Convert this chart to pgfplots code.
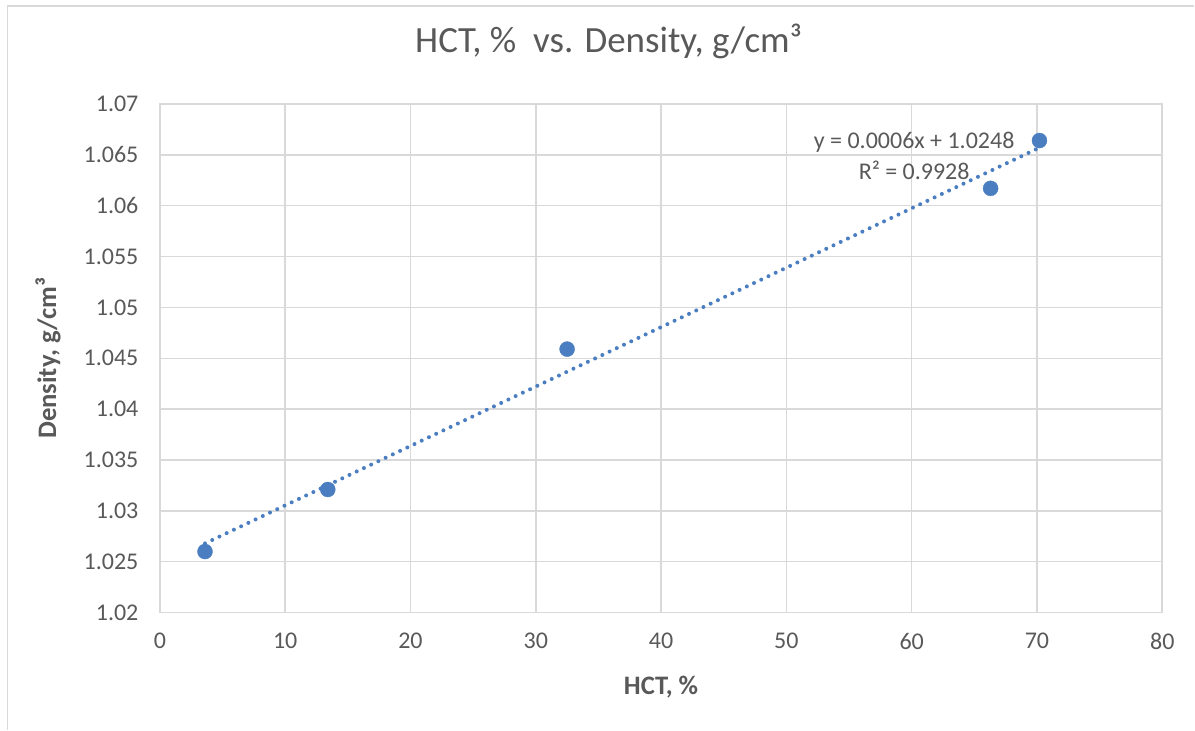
\documentclass[border=0pt]{standalone}
\usepackage{pgfplots}
\pgfplotsset{compat=1.18}
\usepackage{fontspec}
\setmainfont{Carlito}
\definecolor{txt}{HTML}{595959}
\definecolor{gridc}{HTML}{D9D9D9}
\definecolor{ser}{HTML}{4A7EC0}
\begin{document}
\begin{tikzpicture}[x=1bp,y=1bp]
% chart canvas and its faint border
\path (0,0) rectangle (1195,730);
\draw[gridc, line width=1.5bp] (7.5,0) -- (7.5,724) -- (1195,724);
\begin{axis}[
    at={(160bp,117bp)}, anchor=south west,
    scale only axis, width=1003bp, height=509bp,
    xmin=0, xmax=80, ymin=1.02, ymax=1.07,
    xtick={0,10,...,80},
    ytick={1.02,1.025,...,1.07},
    yticklabels={1.02,1.025,1.03,1.035,1.04,1.045,1.05,1.055,1.06,1.065,1.07},
    grid=major,
    major grid style={gridc, line width=1.5bp},
    axis line style={gridc, line width=1.5bp},
    major tick length=0pt,
    tick label style={font=\fontsize{24bp}{28bp}\selectfont, text=txt},
    /pgf/number format/assume math mode=true,
    xticklabel style={yshift=-17bp},
    yticklabel style={xshift=-18bp},
    title={HCT, \%\ \ vs. Density, g/cm³},
    title style={at={(axis description cs:0.4477,1.112)}, anchor=center,
        font=\fontsize{37bp}{42bp}\selectfont, text=txt},
    xlabel={HCT, \%},
    xlabel style={at={(axis description cs:0.5,-0.1473)}, anchor=center,
        font=\fontsize{26.7bp}{30bp}\selectfont\bfseries, text=txt},
    ylabel={Density, g/cm³},
    ylabel style={at={(axis description cs:-0.1117,0.5)}, anchor=center,
        font=\fontsize{26.7bp}{30bp}\selectfont\bfseries, text=txt},
    clip=false,
]
% linear trendline
\addplot[ser, line width=4bp, line cap=round, dash pattern=on 0pt off 8bp]
    coordinates {(3.6,1.0268) (70.2,1.0657)};
\addplot[only marks, mark=*, mark size=7.5bp, mark options={fill=ser, draw=ser}]
    coordinates {
    (3.6,1.0260) (13.4,1.0321) (32.5,1.0459) (66.3,1.0617) (70.2,1.0664)
    };
\node[text=txt, font=\fontsize{24bp}{28bp}\selectfont]
    at (axis cs:60.2,1.06627) {y = 0.0006x + 1.0248};
\node[text=txt, font=\fontsize{24bp}{28bp}\selectfont]
    at (axis cs:60.2,1.06352) {R² = 0.9928};
\end{axis}
\end{tikzpicture}
\end{document}
